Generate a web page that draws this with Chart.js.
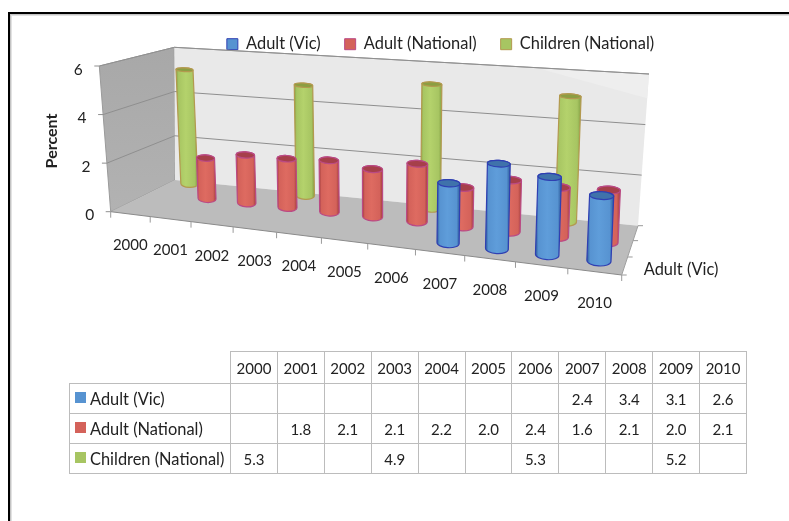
<!DOCTYPE html>
<html lang="en">
<head>
    <meta charset="UTF-8">
    <title>Percent by Year</title>
    <script src="https://cdn.jsdelivr.net/npm/chart.js"></script>
    <style>
        html, body { margin: 0; padding: 0; background: #fff; overflow: hidden; }
        body { width: 789px; height: 521px; position: relative; font-family: Lato, sans-serif; color: #222; }
        #frame {
            position: absolute; left: 8px; top: 12px; width: 800px; height: 530px;
            border-top: 2px solid #000; border-left: 2px solid #000;
            box-shadow: inset 1px 1px 0 #c4c4c4, inset 2px 2px 0 #e2e2e2;
        }
        canvas { position: absolute; left: 0; top: 0; }
        table {
            position: absolute; left: 69px; top: 351px; width: 678px;
            border-collapse: collapse; table-layout: fixed; font-size: 15px;
        }
        td { border: 1px solid #bcbcbc; text-align: center; padding: 0; height: 29px; }
        tr:first-child td { height: 31px; }
        td:first-child { width: 161px; text-align: left; padding-left: 5px; box-sizing: border-box; white-space: nowrap; font-size: 16.4px; }
        td.blank { border-top: none; border-left: none; }
        .swatch { display: inline-block; width: 11px; height: 11px; margin-right: 4px; box-sizing: border-box; position: relative; top: -2px; }
    </style>
</head>
<body>
<div id="frame"></div>
<canvas id="chart" width="789" height="521"></canvas>
<table id="dataTable"></table>

<script>
    const years = ['2000', '2001', '2002', '2003', '2004', '2005', '2006', '2007', '2008', '2009', '2010'];
    const adultVic = [null, null, null, null, null, null, null, 2.4, 3.4, 3.1, 2.6];
    const adultNational = [null, 1.8, 2.1, 2.1, 2.2, 2.0, 2.4, 1.6, 2.1, 2.0, 2.1];
    const childrenNational = [5.3, null, null, 4.9, null, null, 5.3, null, null, 5.2, null];
    const seriesNames = ['Adult (Vic)', 'Adult (National)', 'Children (National)'];

    // where the floor and the top of the 3D box land on the page: front-left, front-right, back-right, back-left
    const floorQuad = [[110.7, 211.7], [621.7, 275], [638, 225.7], [175, 180]];
    const topQuad = [[99.3, 66], [635, 118], [649, 74], [174.3, 47.3]];
    // the quads alone overdo the perspective along the years, this eases it back
    const perspectiveEase = 0.12;
    // how far back each series row stands, front edge 0, back wall 1
    const seriesDepth = [0.2, 0.58, 0.93];
    // cylinders splay out from this page column as they rise
    const leanCentre = 380, leanRate = 0.03;
    // cylinders come out a little short of the wall grid in the original
    const heightTrim = 0.96;

    // cylinder shades: edge, centre, other edge, outline, cap
    const shades = [
        { fill: '#5793d1', dark: '#2c5a9a', light: '#5f9dda', line: '#2f3fb2', cap: '#3f72ab' },
        { fill: '#d4625a', dark: '#a03d3b', light: '#de6b61', line: '#ba4a85', cap: '#a63f4a' },
        { fill: '#a7c562', dark: '#83a145', light: '#b4d26c', line: '#b3994f', cap: '#8c9e42' }
    ];

    function quadMap(q) {
        const [[x0, y0], [x1, y1], [x2, y2], [x3, y3]] = q;
        const sx = x0 - x1 + x2 - x3, sy = y0 - y1 + y2 - y3;
        const dx1 = x1 - x2, dx2 = x3 - x2, dy1 = y1 - y2, dy2 = y3 - y2;
        const den = dx1 * dy2 - dx2 * dy1;
        const g = (sx * dy2 - dx2 * sy) / den, h = (dx1 * sy - sx * dy1) / den;
        const a = x1 - x0 + g * x1, b = x3 - x0 + h * x3;
        const d = y1 - y0 + g * y1, e = y3 - y0 + h * y3;
        return (u, w) => {
            const t = g * u + h * w + 1;
            return [(a * u + b * w + x0) / t, (d * u + e * w + y0) / t];
        };
    }
    const onFloor = quadMap(floorQuad);
    const onTop = quadMap(topQuad);

    // u along the years, w into the depth, v up the value axis (all 0..1)
    function project(u, w, v) {
        const eased = u + perspectiveEase * u * (1 - u);
        const f = onFloor(eased, w), t = onTop(eased, w);
        return [f[0] + (t[0] - f[0]) * v, f[1] + (t[1] - f[1]) * v];
    }

    function poly(ctx, pts, fill, stroke) {
        ctx.beginPath();
        pts.forEach((p, i) => i ? ctx.lineTo(p[0], p[1]) : ctx.moveTo(p[0], p[1]));
        ctx.closePath();
        if (fill) { ctx.fillStyle = fill; ctx.fill(); }
        if (stroke) { ctx.strokeStyle = stroke; ctx.lineWidth = 1; ctx.stroke(); }
    }

    function line(ctx, a, b, color) {
        ctx.beginPath();
        ctx.moveTo(a[0], a[1]);
        ctx.lineTo(b[0], b[1]);
        ctx.strokeStyle = color;
        ctx.lineWidth = 1;
        ctx.stroke();
    }

    function drawBox(ctx, chart) {
        const xs = chart.scales.x, ys = chart.scales.y;
        const vOf = val => (val - ys.min) / (ys.max - ys.min);

        const side = ctx.createLinearGradient(0, 50, 0, 210);
        side.addColorStop(0, '#a8a8a8');
        side.addColorStop(1, '#b2b2b2');
        poly(ctx, [project(0, 0, 0), project(0, 1, 0), project(0, 1, 1), project(0, 0, 1)], side, '#9a9a9a');
        poly(ctx, [project(0, 1, 0), project(1, 1, 0), project(1, 1, 1), project(0, 1, 1)], '#e9e9e9', null);
        poly(ctx, [project(0.83, 1, 1), project(1, 1, 1), project(1, 1, 0.84)], '#eeeeee', null);
        poly(ctx, [project(0, 0, 0), project(1, 0, 0), project(1, 1, 0), project(0, 1, 0)], '#bcbcbc', null);
        line(ctx, project(0, 1, 1), project(1, 1, 1), '#9a9a9a');

        ys.ticks.forEach(t => {
            const v = vOf(t.value);
            if (v > 0) {
                line(ctx, project(0, 0, v), project(0, 1, v), '#8f8f8f');
                line(ctx, project(0, 1, v), project(1, 1, v), '#8f8f8f');
            }
            const p = project(0, 0, v);
            line(ctx, p, [p[0] - 5, p[1]], '#8f8f8f');
            ctx.fillStyle = '#222';
            ctx.font = '15.5px Lato, sans-serif';
            ctx.textAlign = 'center';
            ctx.textBaseline = 'middle';
            ctx.fillText(t.value, p[0] - 21, p[1] + 3.5);
        });
        line(ctx, project(0, 0, 0), project(1, 0, 0), '#8a8a8a');
        line(ctx, project(1, 0, 0), project(1, 1, 0), '#a0a0a0');

        // year ticks on the front edge of the floor
        for (let i = 0; i <= years.length; i++) {
            const p = project(i / years.length, 0, 0);
            line(ctx, p, [p[0], p[1] + 6], '#9a9a9a');
        }
        ctx.font = '15px Lato, sans-serif';
        xs.ticks.forEach((t, i) => {
            const p = project((xs.getPixelForTick(i) - xs.left) / xs.width, 0, 0);
            ctx.fillText(xs.getLabelForValue(t.value), p[0], p[1] + 31.5);
        });

        // series depth ticks on the right edge
        for (let k = 0; k <= seriesNames.length; k++) {
            const p = project(1, k / seriesNames.length, 0);
            line(ctx, p, [p[0] + 5, p[1]], '#9a9a9a');
        }
        const q = project(1, 1 / (2 * seriesNames.length), 0);
        ctx.textAlign = 'left';
        ctx.font = '16.4px Lato, sans-serif';
        ctx.fillText(seriesNames[0], q[0] + 19, q[1] + 4);

        ctx.save();
        ctx.translate(52, 141);
        ctx.rotate(-Math.PI / 2);
        ctx.textAlign = 'center';
        ctx.font = 'bold 16px Lato, sans-serif';
        ctx.fillText('Percent', 0, 0);
        ctx.restore();
    }

    function drawCylinder(ctx, chart, bar, w, shade) {
        const xs = chart.scales.x, ys = chart.scales.y;
        const u = (bar.x - xs.left) / xs.width;
        const half = bar.width / 2 / xs.width;
        const vTop = (ys.bottom - bar.y) / ys.height * heightTrim;
        const baseX = project(u, w, 0)[0];
        const l = project(u - half, w, 0), r = project(u + half, w, 0);
        const rx = Math.hypot(r[0] - l[0], r[1] - l[1]) / 2;
        const rot = Math.atan2(r[1] - l[1], r[0] - l[0]) * 0.5;
        const end = v => ({
            cx: baseX + (baseX - leanCentre) * leanRate * v,
            cy: project(u, w, v)[1],
            ry: rx * (0.42 - 0.24 * v)
        });
        const b = end(0), t = end(vTop);

        ctx.beginPath();
        ctx.ellipse(b.cx, b.cy, rx, b.ry, rot, 0, Math.PI);
        ctx.ellipse(t.cx, t.cy, rx, t.ry, rot, Math.PI, 2 * Math.PI);
        ctx.closePath();
        const grad = ctx.createLinearGradient(Math.min(b.cx, t.cx) - rx, 0, Math.max(b.cx, t.cx) + rx, 0);
        grad.addColorStop(0, shade.dark);
        grad.addColorStop(0.12, shade.fill);
        grad.addColorStop(0.45, shade.light);
        grad.addColorStop(0.85, shade.fill);
        grad.addColorStop(1, shade.dark);
        ctx.fillStyle = grad;
        ctx.fill();
        ctx.strokeStyle = shade.line;
        ctx.lineWidth = 1.2;
        ctx.stroke();

        ctx.beginPath();
        ctx.ellipse(t.cx, t.cy, rx, t.ry, rot, 0, 2 * Math.PI);
        ctx.fillStyle = shade.cap;
        ctx.fill();
        ctx.stroke();
    }

    const box3d = {
        id: 'box3d',
        beforeDatasetsDraw(chart) {
            const ctx = chart.ctx;
            drawBox(ctx, chart);
            // the series nearest the viewer is dataset 0, so paint from the last one back to front
            for (let i = chart.data.datasets.length - 1; i >= 0; i--) {
                chart.getDatasetMeta(i).data.forEach((bar, j) => {
                    if (chart.data.datasets[i].data[j] !== null) drawCylinder(ctx, chart, bar, seriesDepth[i], shades[i]);
                });
            }
            return false;
        }
    };

    new Chart(document.getElementById('chart').getContext('2d'), {
        type: 'bar',
        plugins: [box3d],
        data: {
            labels: years,
            datasets: [adultVic, adultNational, childrenNational].map((values, i) => ({
                label: seriesNames[i],
                data: values,
                backgroundColor: shades[i].fill,
                borderColor: shades[i].line,
                borderWidth: 1,
                barThickness: 29,
                grouped: false
            }))
        },
        options: {
            responsive: false,
            animation: false,
            layout: { padding: { left: 92, top: 12, bottom: 60 } },
            plugins: {
                tooltip: { enabled: false },
                legend: {
                    position: 'top',
                    labels: {
                        boxWidth: 11,
                        boxHeight: 11,
                        padding: 24,
                        color: '#222',
                        font: { family: 'Lato, sans-serif', size: 16.4 }
                    }
                }
            },
            scales: {
                x: { display: false },
                y: { display: false, min: 0, max: 6, ticks: { stepSize: 2 } }
            }
        }
    });

    // data table under the chart
    const table = document.getElementById('dataTable');
    function addRow(cells) {
        const tr = table.insertRow();
        cells.forEach(text => { tr.insertCell().textContent = text === null ? '' : text; });
        return tr;
    }
    addRow([''].concat(years)).cells[0].className = 'blank';
    [adultVic, adultNational, childrenNational].forEach((values, i) => {
        const tr = addRow([seriesNames[i]].concat(values.map(v => v === null ? null : v.toFixed(1))));
        const swatch = document.createElement('span');
        swatch.className = 'swatch';
        swatch.style.background = shades[i].fill;
        tr.cells[0].prepend(swatch);
    });
</script>
</body>
</html>
